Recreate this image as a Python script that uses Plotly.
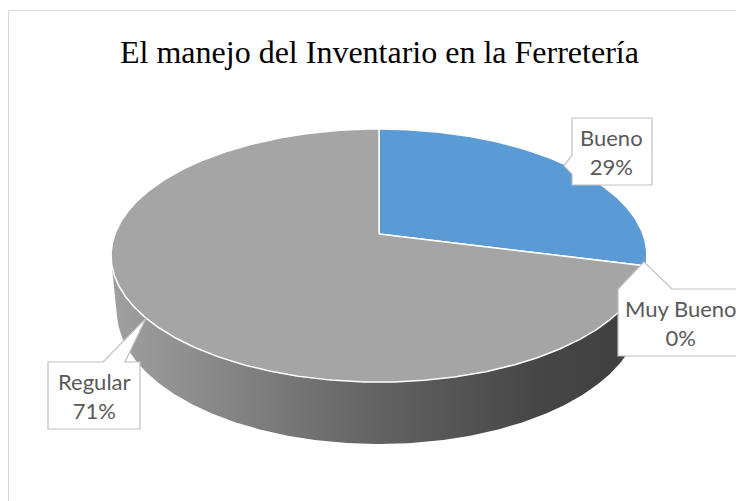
import numpy as np
import plotly.graph_objects as go

# ---- data ----
labels = ["Bueno", "Muy Bueno", "Regular"]
values = [29, 0, 71]
colors = ["#5B9BD5", "#ED7D31", "#A5A5A5"]
title_text = "El manejo del Inventario en la Ferretería"

# ---- 3D projection of the pie (layout parameters) ----
CX, CY = 379.0, 234.0
F = 1373.0
D = 5.2
ALPHA = np.arcsin(0.4655)
H = 0.239


def proj(phi, z=0.0):
    X = np.cos(phi)
    Yp = np.sin(phi)
    d = D + Yp * np.cos(ALPHA) - z * np.sin(ALPHA)
    u = Yp * np.sin(ALPHA) + z * np.cos(ALPHA)
    return CX + F * X / d, CY - F * u / d


def hull(points):
    pts = sorted(set(points))
    def cross(o, a, b):
        return (a[0] - o[0]) * (b[1] - o[1]) - (a[1] - o[1]) * (b[0] - o[0])
    lower, upper = [], []
    for p in pts:
        while len(lower) >= 2 and cross(lower[-2], lower[-1], p) <= 0:
            lower.pop()
        lower.append(p)
    for p in reversed(pts):
        while len(upper) >= 2 and cross(upper[-2], upper[-1], p) <= 0:
            upper.pop()
        upper.append(p)
    return lower[:-1] + upper[:-1]


fig = go.Figure()

# body (side) of the pie: convex hull of top and bottom rims
phis = np.linspace(0, 2 * np.pi, 721)
tx, ty = proj(phis, 0.0)
bx, by = proj(phis, -H)
pts = [(round(a, 3), round(b, 3)) for a, b in zip(np.concatenate([tx, bx]), np.concatenate([ty, by]))]
hp = hull(pts)
hp.append(hp[0])
fig.add_trace(go.Scatter(
    x=[p[0] for p in hp], y=[p[1] for p in hp], mode="lines", fill="toself",
    line=dict(width=0, color="rgba(0,0,0,0)"),
    fillgradient=dict(type="horizontal",
                      colorscale=[[0, "#a0a0a0"], [0.5, "#626262"], [0.8, "#464646"], [1, "#3e3e3e"]]),
    hoverinfo="skip", showlegend=False))

# top face slices
total = float(sum(values))
cum = 0.0
mids = []
for lab, v, c in zip(labels, values, colors):
    a0 = np.pi / 2 - 2 * np.pi * cum / total
    a1 = np.pi / 2 - 2 * np.pi * (cum + v) / total
    mids.append((a0 + a1) / 2)
    cum += v
    if v <= 0:
        continue
    arc = np.linspace(a0, a1, max(2, int(abs(a1 - a0) * 120)))
    ax_, ay_ = proj(arc, 0.0)
    xs = np.concatenate([[CX], ax_, [CX]])
    ys = np.concatenate([[CY], ay_, [CY]])
    fig.add_trace(go.Scatter(x=xs, y=ys, mode="lines", fill="toself", fillcolor=c,
                             line=dict(color="white", width=1.5),
                             hoverinfo="skip", showlegend=False))

# label tips on the rim
tips = [proj(m, 0.0) for m in mids]
pct = [f"{round(100 * v / total)}%" for v in values]

BORDER = "#BFBFBF"
shapes = []
# chart area border
shapes.append(dict(type="rect", xref="x", yref="y", x0=8.5, y0=10.5, x1=760, y1=530,
                   line=dict(color="#D9D9D9", width=1), fillcolor="rgba(0,0,0,0)", layer="below"))

# callout boxes
(bxt, byt) = tips[0]
shapes.append(dict(type="path", xref="x", yref="y",
                   path=f"M572,118 L652,118 L652,185 L572,185 L572,174 L{bxt-4:.1f},{byt:.1f} L572,155 Z",
                   fillcolor="white", line=dict(color=BORDER, width=1.2)))
(mx, my) = tips[1]
shapes.append(dict(type="path", xref="x", yref="y",
                   path=f"M618,289 L{mx-2:.1f},{my-4:.1f} L672,289 L800,289 L800,356 L618,356 Z",
                   fillcolor="white", line=dict(color=BORDER, width=1.2)))
(rx, ry) = tips[2]
shapes.append(dict(type="path", xref="x", yref="y",
                   path=f"M48,362 L103,362 L{rx:.1f},{ry:.1f} L125,362 L140,362 L140,429 L48,429 Z",
                   fillcolor="white", line=dict(color=BORDER, width=1.2)))

LABFONT = dict(family="Lato, Carlito, Calibri, sans-serif", size=22, color="#595959")
annotations = [
    dict(x=611, y=152, xref="x", yref="y", text=f"{labels[0]}<br>{pct[0]}", showarrow=False,
         font=LABFONT, align="center"),
    dict(x=681, y=323, xref="x", yref="y", text=f"{labels[1]}<br>{pct[1]}", showarrow=False,
         font=LABFONT, align="center"),
    dict(x=94, y=396, xref="x", yref="y", text=f"{labels[2]}<br>{pct[2]}", showarrow=False,
         font=LABFONT, align="center"),
    dict(x=379, y=52, xref="x", yref="y", text=title_text, showarrow=False,
         font=dict(family="Liberation Serif, Times New Roman, serif", size=32, color="#000000")),
]

fig.update_layout(
    width=736, height=501,
    margin=dict(l=0, r=0, t=0, b=0),
    paper_bgcolor="white", plot_bgcolor="white",
    xaxis=dict(range=[0, 736], visible=False, fixedrange=True),
    yaxis=dict(range=[501, 0], visible=False, fixedrange=True),
    shapes=shapes, annotations=annotations,
    showlegend=False,
)

# remove the default 8px page margin so the figure fills the 736x501 window exactly
fig.write_html("out.html", config={"displayModeBar": False},
               post_script="document.body.style.margin='0';document.body.style.overflow='hidden';")
